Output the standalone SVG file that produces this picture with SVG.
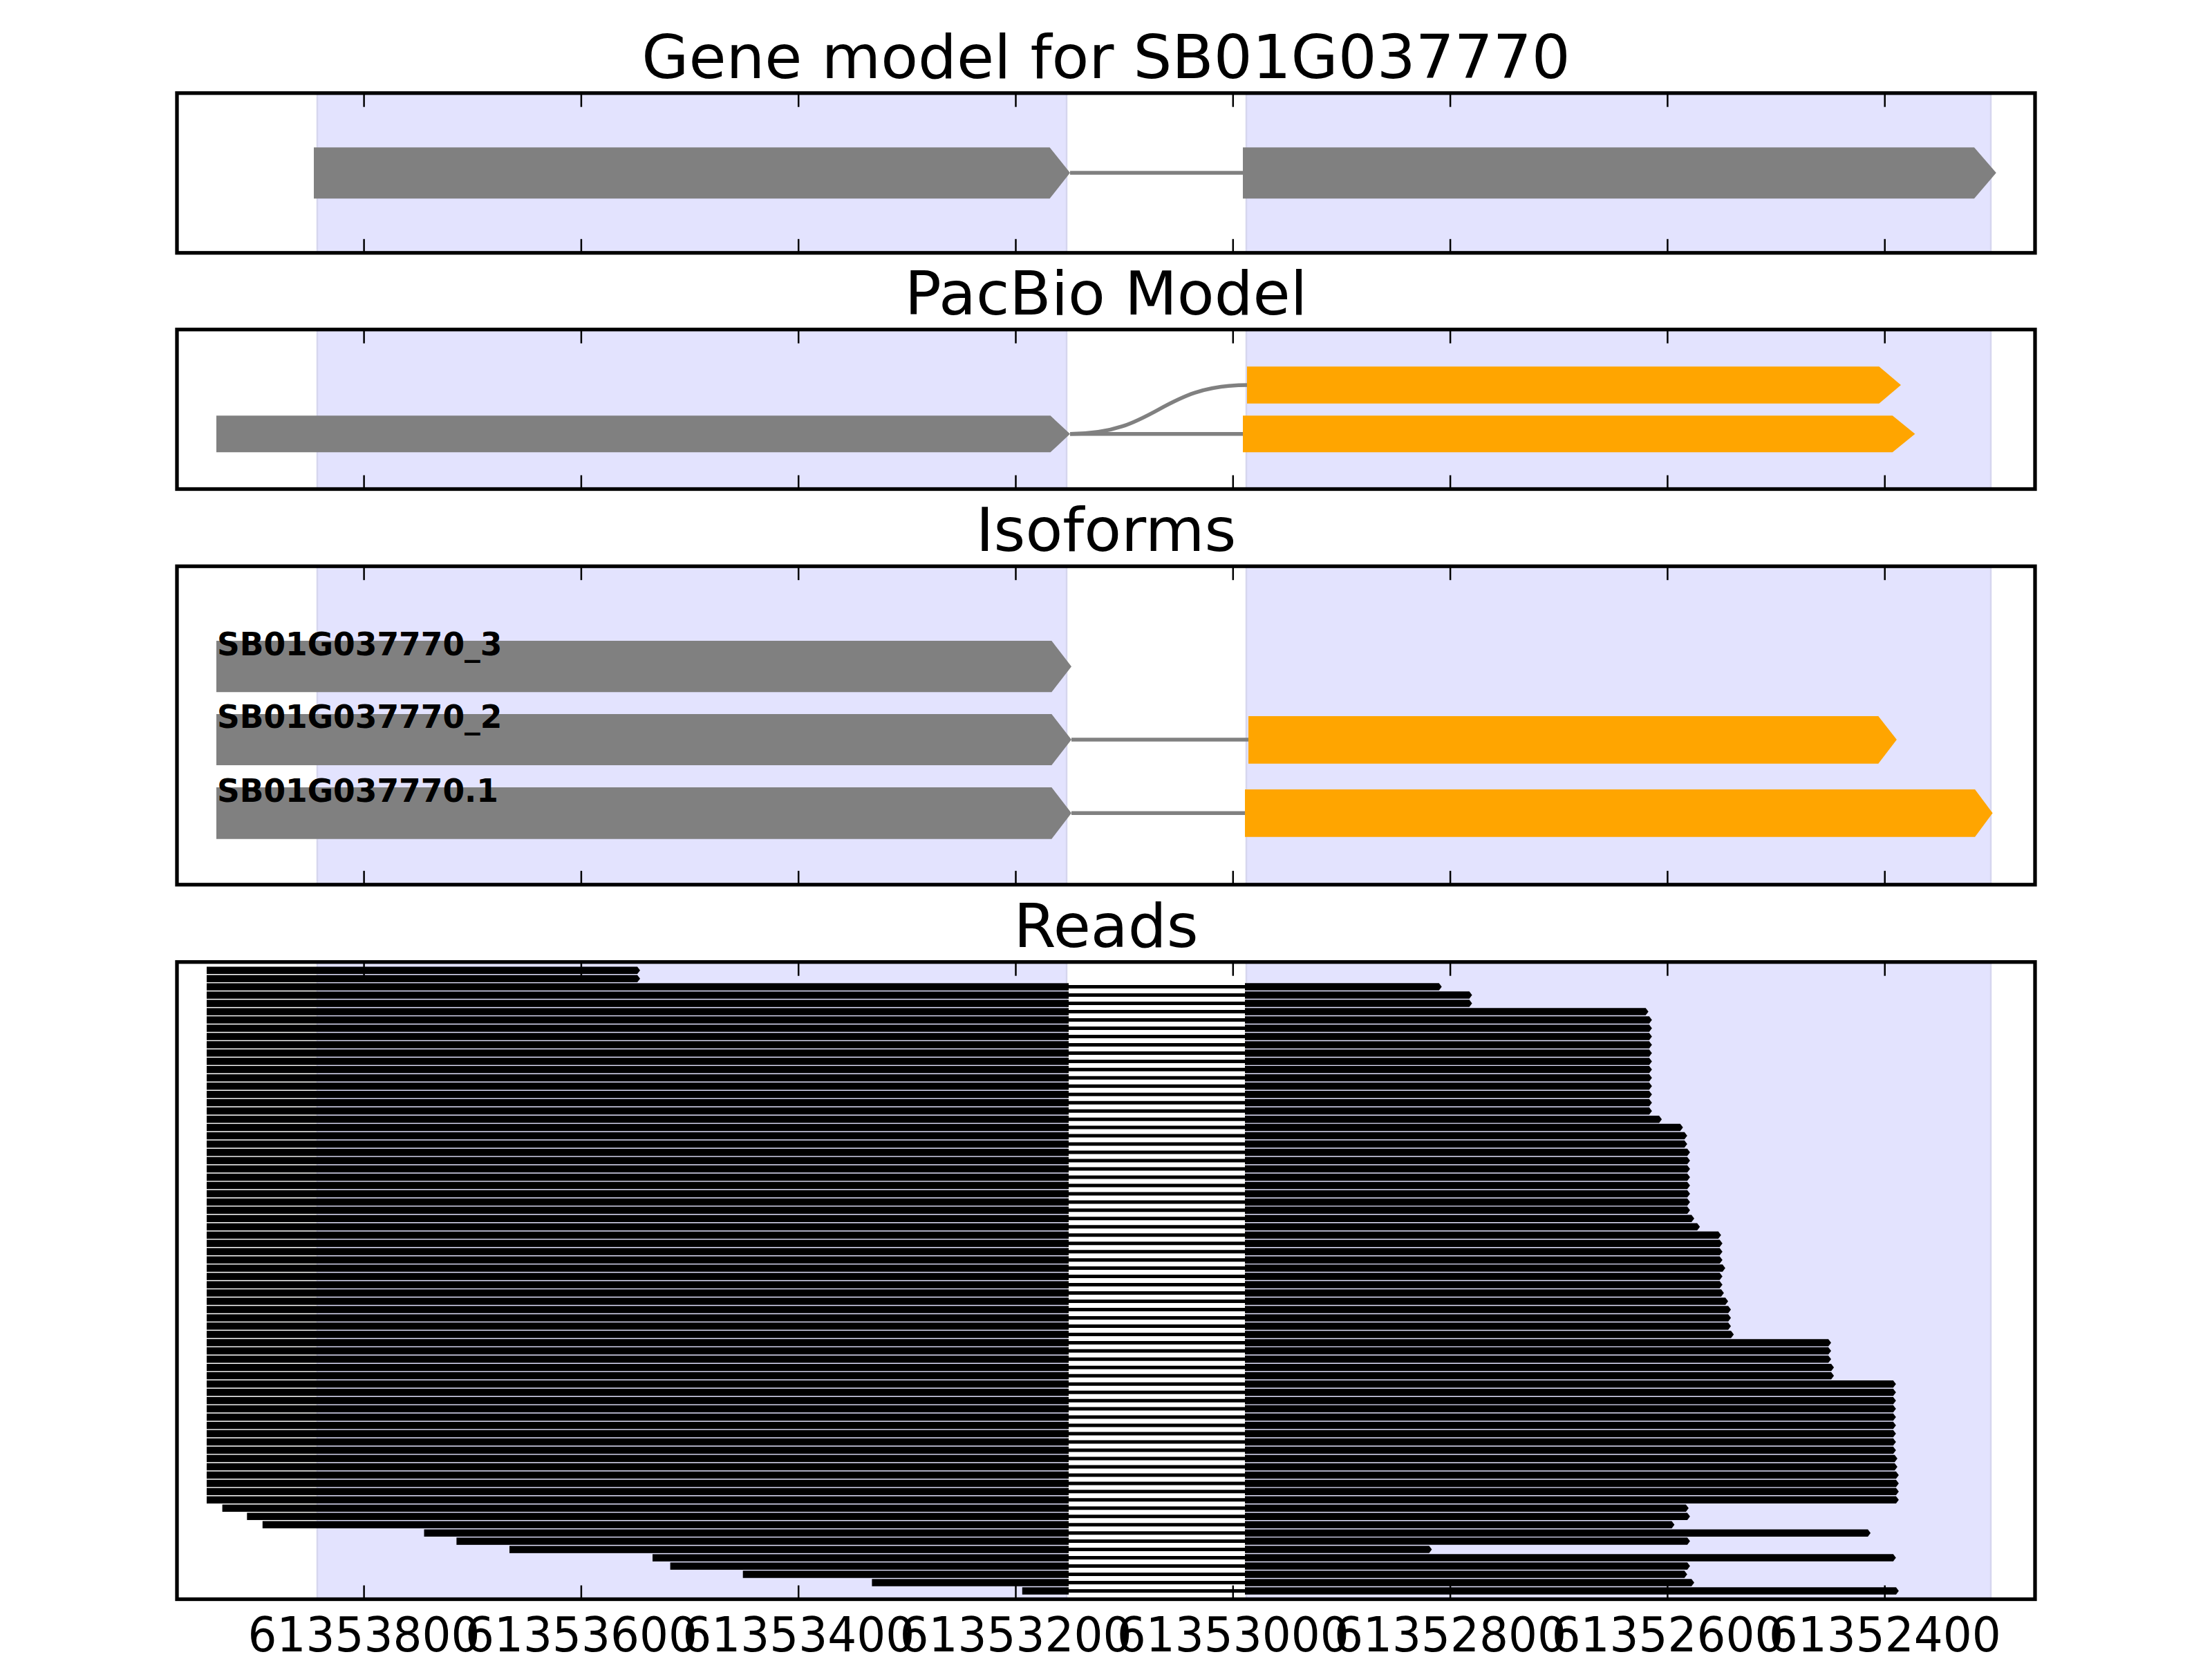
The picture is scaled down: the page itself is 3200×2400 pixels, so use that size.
<svg xmlns="http://www.w3.org/2000/svg" width="3200" height="2400" viewBox="0 0 3200 2400">
<style>
.bg{fill:#fff}
.span{fill:#E3E3FE;stroke:#D6D6EE;stroke-width:2.5}
.spine{fill:none;stroke:#000;stroke-width:5.3}
.tick{stroke:#000;stroke-width:2.5}
.gray{fill:#808080}
.orange{fill:#FFA500}
.intron{fill:none;stroke:#808080;stroke-width:5.5}
.rd{fill:#000}
.rin{stroke:#000;stroke-width:5}
.title{font-family:"DejaVu Sans","Liberation Sans",sans-serif;font-size:88px;text-anchor:middle;fill:#000}
.lbl{font-family:"DejaVu Sans","Liberation Sans",sans-serif;font-weight:bold;font-size:45.5px;fill:#000}
.tl{font-family:"DejaVu Sans","Liberation Sans",sans-serif;font-size:70px;text-anchor:middle;fill:#000}
</style>
<defs>
<g id="ticks">
<line class="tick" x1="526.6" y1="0" x2="526.6" y2="20"/>
<line class="tick" x1="840.9" y1="0" x2="840.9" y2="20"/>
<line class="tick" x1="1155.2" y1="0" x2="1155.2" y2="20"/>
<line class="tick" x1="1469.5" y1="0" x2="1469.5" y2="20"/>
<line class="tick" x1="1783.8" y1="0" x2="1783.8" y2="20"/>
<line class="tick" x1="2098.1" y1="0" x2="2098.1" y2="20"/>
<line class="tick" x1="2412.4" y1="0" x2="2412.4" y2="20"/>
<line class="tick" x1="2726.7" y1="0" x2="2726.7" y2="20"/>
</g>
</defs>
<rect class="bg" x="0" y="0" width="3200" height="2400"/>

<!-- shaded exon regions -->
<g id="spans">
<rect class="span" x="459" y="134.7" width="1084" height="231.1"/>
<rect class="span" x="1803" y="134.7" width="1077" height="231.1"/>
<rect class="span" x="459" y="476.7" width="1084" height="230.8"/>
<rect class="span" x="1803" y="476.7" width="1077" height="230.8"/>
<rect class="span" x="459" y="819.2" width="1084" height="460.6"/>
<rect class="span" x="1803" y="819.2" width="1077" height="460.6"/>
<rect class="span" x="459" y="1391.7" width="1084" height="921.8"/>
<rect class="span" x="1803" y="1391.7" width="1077" height="921.8"/>
</g>

<!-- connectors -->
<g id="connectors">
<line class="intron" x1="1548" y1="250" x2="1798" y2="250"/>
<path class="intron" d="M1548,627.7 C1676,627.7 1676,557 1806,557"/>
<line class="intron" x1="1548" y1="627.7" x2="1798" y2="627.7"/>
<line class="intron" x1="1550" y1="1070" x2="1806" y2="1070"/>
<line class="intron" x1="1550" y1="1176.3" x2="1801" y2="1176.3"/>
<line class="rin" x1="1546" y1="1427.6" x2="1801" y2="1427.6"/>
<line class="rin" x1="1546" y1="1439.6" x2="1801" y2="1439.6"/>
<line class="rin" x1="1546" y1="1451.6" x2="1801" y2="1451.6"/>
<line class="rin" x1="1546" y1="1463.6" x2="1801" y2="1463.6"/>
<line class="rin" x1="1546" y1="1475.5" x2="1801" y2="1475.5"/>
<line class="rin" x1="1546" y1="1487.5" x2="1801" y2="1487.5"/>
<line class="rin" x1="1546" y1="1499.5" x2="1801" y2="1499.5"/>
<line class="rin" x1="1546" y1="1511.4" x2="1801" y2="1511.4"/>
<line class="rin" x1="1546" y1="1523.4" x2="1801" y2="1523.4"/>
<line class="rin" x1="1546" y1="1535.4" x2="1801" y2="1535.4"/>
<line class="rin" x1="1546" y1="1547.3" x2="1801" y2="1547.3"/>
<line class="rin" x1="1546" y1="1559.3" x2="1801" y2="1559.3"/>
<line class="rin" x1="1546" y1="1571.3" x2="1801" y2="1571.3"/>
<line class="rin" x1="1546" y1="1583.3" x2="1801" y2="1583.3"/>
<line class="rin" x1="1546" y1="1595.2" x2="1801" y2="1595.2"/>
<line class="rin" x1="1546" y1="1607.2" x2="1801" y2="1607.2"/>
<line class="rin" x1="1546" y1="1619.2" x2="1801" y2="1619.2"/>
<line class="rin" x1="1546" y1="1631.1" x2="1801" y2="1631.1"/>
<line class="rin" x1="1546" y1="1643.1" x2="1801" y2="1643.1"/>
<line class="rin" x1="1546" y1="1655.1" x2="1801" y2="1655.1"/>
<line class="rin" x1="1546" y1="1667.1" x2="1801" y2="1667.1"/>
<line class="rin" x1="1546" y1="1679.0" x2="1801" y2="1679.0"/>
<line class="rin" x1="1546" y1="1691.0" x2="1801" y2="1691.0"/>
<line class="rin" x1="1546" y1="1703.0" x2="1801" y2="1703.0"/>
<line class="rin" x1="1546" y1="1714.9" x2="1801" y2="1714.9"/>
<line class="rin" x1="1546" y1="1726.9" x2="1801" y2="1726.9"/>
<line class="rin" x1="1546" y1="1738.9" x2="1801" y2="1738.9"/>
<line class="rin" x1="1546" y1="1750.8" x2="1801" y2="1750.8"/>
<line class="rin" x1="1546" y1="1762.8" x2="1801" y2="1762.8"/>
<line class="rin" x1="1546" y1="1774.8" x2="1801" y2="1774.8"/>
<line class="rin" x1="1546" y1="1786.8" x2="1801" y2="1786.8"/>
<line class="rin" x1="1546" y1="1798.7" x2="1801" y2="1798.7"/>
<line class="rin" x1="1546" y1="1810.7" x2="1801" y2="1810.7"/>
<line class="rin" x1="1546" y1="1822.7" x2="1801" y2="1822.7"/>
<line class="rin" x1="1546" y1="1834.6" x2="1801" y2="1834.6"/>
<line class="rin" x1="1546" y1="1846.6" x2="1801" y2="1846.6"/>
<line class="rin" x1="1546" y1="1858.6" x2="1801" y2="1858.6"/>
<line class="rin" x1="1546" y1="1870.5" x2="1801" y2="1870.5"/>
<line class="rin" x1="1546" y1="1882.5" x2="1801" y2="1882.5"/>
<line class="rin" x1="1546" y1="1894.5" x2="1801" y2="1894.5"/>
<line class="rin" x1="1546" y1="1906.5" x2="1801" y2="1906.5"/>
<line class="rin" x1="1546" y1="1918.4" x2="1801" y2="1918.4"/>
<line class="rin" x1="1546" y1="1930.4" x2="1801" y2="1930.4"/>
<line class="rin" x1="1546" y1="1942.4" x2="1801" y2="1942.4"/>
<line class="rin" x1="1546" y1="1954.3" x2="1801" y2="1954.3"/>
<line class="rin" x1="1546" y1="1966.3" x2="1801" y2="1966.3"/>
<line class="rin" x1="1546" y1="1978.3" x2="1801" y2="1978.3"/>
<line class="rin" x1="1546" y1="1990.2" x2="1801" y2="1990.2"/>
<line class="rin" x1="1546" y1="2002.2" x2="1801" y2="2002.2"/>
<line class="rin" x1="1546" y1="2014.2" x2="1801" y2="2014.2"/>
<line class="rin" x1="1546" y1="2026.2" x2="1801" y2="2026.2"/>
<line class="rin" x1="1546" y1="2038.1" x2="1801" y2="2038.1"/>
<line class="rin" x1="1546" y1="2050.1" x2="1801" y2="2050.1"/>
<line class="rin" x1="1546" y1="2062.1" x2="1801" y2="2062.1"/>
<line class="rin" x1="1546" y1="2074.0" x2="1801" y2="2074.0"/>
<line class="rin" x1="1546" y1="2086.0" x2="1801" y2="2086.0"/>
<line class="rin" x1="1546" y1="2098.0" x2="1801" y2="2098.0"/>
<line class="rin" x1="1546" y1="2109.9" x2="1801" y2="2109.9"/>
<line class="rin" x1="1546" y1="2121.9" x2="1801" y2="2121.9"/>
<line class="rin" x1="1546" y1="2133.9" x2="1801" y2="2133.9"/>
<line class="rin" x1="1546" y1="2145.9" x2="1801" y2="2145.9"/>
<line class="rin" x1="1546" y1="2157.8" x2="1801" y2="2157.8"/>
<line class="rin" x1="1546" y1="2169.8" x2="1801" y2="2169.8"/>
<line class="rin" x1="1546" y1="2181.8" x2="1801" y2="2181.8"/>
<line class="rin" x1="1546" y1="2193.7" x2="1801" y2="2193.7"/>
<line class="rin" x1="1546" y1="2205.7" x2="1801" y2="2205.7"/>
<line class="rin" x1="1546" y1="2217.7" x2="1801" y2="2217.7"/>
<line class="rin" x1="1546" y1="2229.6" x2="1801" y2="2229.6"/>
<line class="rin" x1="1546" y1="2241.6" x2="1801" y2="2241.6"/>
<line class="rin" x1="1546" y1="2253.6" x2="1801" y2="2253.6"/>
<line class="rin" x1="1546" y1="2265.6" x2="1801" y2="2265.6"/>
<line class="rin" x1="1546" y1="2277.5" x2="1801" y2="2277.5"/>
<line class="rin" x1="1546" y1="2289.5" x2="1801" y2="2289.5"/>
<line class="rin" x1="1546" y1="2301.5" x2="1801" y2="2301.5"/>
</g>

<!-- panel 1: gene model -->
<g id="gene-model">
<path id="gm-exon1" class="gray" d="M454,213.3 H1518.6 L1548,250 L1518.6,287.3 H454 Z"/>
<path id="gm-exon2" class="gray" d="M1798,213.3 H2856 L2887.8,250 L2856,287.3 H1798 Z"/>
</g>

<!-- panel 2: PacBio model -->
<g id="pacbio-model">
<path id="pb-exon1" class="gray" d="M313,601.3 H1519.6 L1548,627.7 L1519.6,654.3 H313 Z"/>
<path id="pb-exon2a" class="orange" d="M1804,530.3 H2718.4 L2750,557 L2718.4,583.7 H1804 Z"/>
<path id="pb-exon2b" class="orange" d="M1798,601.3 H2737.8 L2770.4,627.7 L2737.8,654.3 H1798 Z"/>
</g>

<!-- panel 3: isoforms -->
<g id="isoform-3">
<path class="gray" d="M313,927 H1521.3 L1550,964.3 L1521.3,1001.3 H313 Z"/>
<text class="lbl" x="314" y="947.7">SB01G037770_3</text>
</g>
<g id="isoform-2">
<path class="gray" d="M313,1033 H1521.3 L1550,1070 L1521.3,1107 H313 Z"/>
<path class="orange" d="M1806,1036 H2717.3 L2743.9,1070 L2717.3,1104.7 H1806 Z"/>
<text class="lbl" x="314" y="1053.3">SB01G037770_2</text>
</g>
<g id="isoform-1">
<path class="gray" d="M313,1139 H1521.3 L1550,1176.3 L1521.3,1213.7 H313 Z"/>
<path class="orange" d="M1801,1142 H2857.1 L2882.6,1176.3 L2857.1,1210.7 H1801 Z"/>
<text class="lbl" x="314" y="1160">SB01G037770.1</text>
</g>

<!-- panel 4: reads -->
<g id="reads">
<g id="read-1" transform="translate(0,1403.7)"><path class="rd" d="M299,-5.25H922L926,0L922,5.25H299Z"/></g>
<g id="read-2" transform="translate(0,1415.7)"><path class="rd" d="M299,-5.25H922L926,0L922,5.25H299Z"/></g>
<g id="read-3" transform="translate(0,1427.6)"><rect class="rd" x="299" y="-5.25" width="1247" height="10.5"/><path class="rd" d="M1801,-5.25H2081.7L2085.7,0L2081.7,5.25H1801Z"/></g>
<g id="read-4" transform="translate(0,1439.6)"><rect class="rd" x="299" y="-5.25" width="1247" height="10.5"/><path class="rd" d="M1801,-5.25H2125.6L2129.6,0L2125.6,5.25H1801Z"/></g>
<g id="read-5" transform="translate(0,1451.6)"><rect class="rd" x="299" y="-5.25" width="1247" height="10.5"/><path class="rd" d="M1801,-5.25H2125.6L2129.6,0L2125.6,5.25H1801Z"/></g>
<g id="read-6" transform="translate(0,1463.6)"><rect class="rd" x="299" y="-5.25" width="1247" height="10.5"/><path class="rd" d="M1801,-5.25H2380.7L2384.7,0L2380.7,5.25H1801Z"/></g>
<g id="read-7" transform="translate(0,1475.5)"><rect class="rd" x="299" y="-5.25" width="1247" height="10.5"/><path class="rd" d="M1801,-5.25H2385.8L2389.8,0L2385.8,5.25H1801Z"/></g>
<g id="read-8" transform="translate(0,1487.5)"><rect class="rd" x="299" y="-5.25" width="1247" height="10.5"/><path class="rd" d="M1801,-5.25H2385.8L2389.8,0L2385.8,5.25H1801Z"/></g>
<g id="read-9" transform="translate(0,1499.5)"><rect class="rd" x="299" y="-5.25" width="1247" height="10.5"/><path class="rd" d="M1801,-5.25H2385.8L2389.8,0L2385.8,5.25H1801Z"/></g>
<g id="read-10" transform="translate(0,1511.4)"><rect class="rd" x="299" y="-5.25" width="1247" height="10.5"/><path class="rd" d="M1801,-5.25H2385.8L2389.8,0L2385.8,5.25H1801Z"/></g>
<g id="read-11" transform="translate(0,1523.4)"><rect class="rd" x="299" y="-5.25" width="1247" height="10.5"/><path class="rd" d="M1801,-5.25H2385.8L2389.8,0L2385.8,5.25H1801Z"/></g>
<g id="read-12" transform="translate(0,1535.4)"><rect class="rd" x="299" y="-5.25" width="1247" height="10.5"/><path class="rd" d="M1801,-5.25H2385.8L2389.8,0L2385.8,5.25H1801Z"/></g>
<g id="read-13" transform="translate(0,1547.3)"><rect class="rd" x="299" y="-5.25" width="1247" height="10.5"/><path class="rd" d="M1801,-5.25H2385.8L2389.8,0L2385.8,5.25H1801Z"/></g>
<g id="read-14" transform="translate(0,1559.3)"><rect class="rd" x="299" y="-5.25" width="1247" height="10.5"/><path class="rd" d="M1801,-5.25H2385.8L2389.8,0L2385.8,5.25H1801Z"/></g>
<g id="read-15" transform="translate(0,1571.3)"><rect class="rd" x="299" y="-5.25" width="1247" height="10.5"/><path class="rd" d="M1801,-5.25H2385.8L2389.8,0L2385.8,5.25H1801Z"/></g>
<g id="read-16" transform="translate(0,1583.3)"><rect class="rd" x="299" y="-5.25" width="1247" height="10.5"/><path class="rd" d="M1801,-5.25H2385.8L2389.8,0L2385.8,5.25H1801Z"/></g>
<g id="read-17" transform="translate(0,1595.2)"><rect class="rd" x="299" y="-5.25" width="1247" height="10.5"/><path class="rd" d="M1801,-5.25H2385.8L2389.8,0L2385.8,5.25H1801Z"/></g>
<g id="read-18" transform="translate(0,1607.2)"><rect class="rd" x="299" y="-5.25" width="1247" height="10.5"/><path class="rd" d="M1801,-5.25H2385.8L2389.8,0L2385.8,5.25H1801Z"/></g>
<g id="read-19" transform="translate(0,1619.2)"><rect class="rd" x="299" y="-5.25" width="1247" height="10.5"/><path class="rd" d="M1801,-5.25H2400.1L2404.1,0L2400.1,5.25H1801Z"/></g>
<g id="read-20" transform="translate(0,1631.1)"><rect class="rd" x="299" y="-5.25" width="1247" height="10.5"/><path class="rd" d="M1801,-5.25H2430.7L2434.7,0L2430.7,5.25H1801Z"/></g>
<g id="read-21" transform="translate(0,1643.1)"><rect class="rd" x="299" y="-5.25" width="1247" height="10.5"/><path class="rd" d="M1801,-5.25H2436.8L2440.8,0L2436.8,5.25H1801Z"/></g>
<g id="read-22" transform="translate(0,1655.1)"><rect class="rd" x="299" y="-5.25" width="1247" height="10.5"/><path class="rd" d="M1801,-5.25H2436.8L2440.8,0L2436.8,5.25H1801Z"/></g>
<g id="read-23" transform="translate(0,1667.1)"><rect class="rd" x="299" y="-5.25" width="1247" height="10.5"/><path class="rd" d="M1801,-5.25H2440.9L2444.9,0L2440.9,5.25H1801Z"/></g>
<g id="read-24" transform="translate(0,1679.0)"><rect class="rd" x="299" y="-5.25" width="1247" height="10.5"/><path class="rd" d="M1801,-5.25H2440.9L2444.9,0L2440.9,5.25H1801Z"/></g>
<g id="read-25" transform="translate(0,1691.0)"><rect class="rd" x="299" y="-5.25" width="1247" height="10.5"/><path class="rd" d="M1801,-5.25H2440.9L2444.9,0L2440.9,5.25H1801Z"/></g>
<g id="read-26" transform="translate(0,1703.0)"><rect class="rd" x="299" y="-5.25" width="1247" height="10.5"/><path class="rd" d="M1801,-5.25H2440.9L2444.9,0L2440.9,5.25H1801Z"/></g>
<g id="read-27" transform="translate(0,1714.9)"><rect class="rd" x="299" y="-5.25" width="1247" height="10.5"/><path class="rd" d="M1801,-5.25H2440.9L2444.9,0L2440.9,5.25H1801Z"/></g>
<g id="read-28" transform="translate(0,1726.9)"><rect class="rd" x="299" y="-5.25" width="1247" height="10.5"/><path class="rd" d="M1801,-5.25H2440.9L2444.9,0L2440.9,5.25H1801Z"/></g>
<g id="read-29" transform="translate(0,1738.9)"><rect class="rd" x="299" y="-5.25" width="1247" height="10.5"/><path class="rd" d="M1801,-5.25H2440.9L2444.9,0L2440.9,5.25H1801Z"/></g>
<g id="read-30" transform="translate(0,1750.8)"><rect class="rd" x="299" y="-5.25" width="1247" height="10.5"/><path class="rd" d="M1801,-5.25H2440.9L2444.9,0L2440.9,5.25H1801Z"/></g>
<g id="read-31" transform="translate(0,1762.8)"><rect class="rd" x="299" y="-5.25" width="1247" height="10.5"/><path class="rd" d="M1801,-5.25H2447L2451,0L2447,5.25H1801Z"/></g>
<g id="read-32" transform="translate(0,1774.8)"><rect class="rd" x="299" y="-5.25" width="1247" height="10.5"/><path class="rd" d="M1801,-5.25H2455.2L2459.2,0L2455.2,5.25H1801Z"/></g>
<g id="read-33" transform="translate(0,1786.8)"><rect class="rd" x="299" y="-5.25" width="1247" height="10.5"/><path class="rd" d="M1801,-5.25H2485.8L2489.8,0L2485.8,5.25H1801Z"/></g>
<g id="read-34" transform="translate(0,1798.7)"><rect class="rd" x="299" y="-5.25" width="1247" height="10.5"/><path class="rd" d="M1801,-5.25H2487.8L2491.8,0L2487.8,5.25H1801Z"/></g>
<g id="read-35" transform="translate(0,1810.7)"><rect class="rd" x="299" y="-5.25" width="1247" height="10.5"/><path class="rd" d="M1801,-5.25H2487.8L2491.8,0L2487.8,5.25H1801Z"/></g>
<g id="read-36" transform="translate(0,1822.7)"><rect class="rd" x="299" y="-5.25" width="1247" height="10.5"/><path class="rd" d="M1801,-5.25H2487.8L2491.8,0L2487.8,5.25H1801Z"/></g>
<g id="read-37" transform="translate(0,1834.6)"><rect class="rd" x="299" y="-5.25" width="1247" height="10.5"/><path class="rd" d="M1801,-5.25H2491.9L2495.9,0L2491.9,5.25H1801Z"/></g>
<g id="read-38" transform="translate(0,1846.6)"><rect class="rd" x="299" y="-5.25" width="1247" height="10.5"/><path class="rd" d="M1801,-5.25H2487.8L2491.8,0L2487.8,5.25H1801Z"/></g>
<g id="read-39" transform="translate(0,1858.6)"><rect class="rd" x="299" y="-5.25" width="1247" height="10.5"/><path class="rd" d="M1801,-5.25H2487.8L2491.8,0L2487.8,5.25H1801Z"/></g>
<g id="read-40" transform="translate(0,1870.5)"><rect class="rd" x="299" y="-5.25" width="1247" height="10.5"/><path class="rd" d="M1801,-5.25H2489.9L2493.9,0L2489.9,5.25H1801Z"/></g>
<g id="read-41" transform="translate(0,1882.5)"><rect class="rd" x="299" y="-5.25" width="1247" height="10.5"/><path class="rd" d="M1801,-5.25H2496L2500,0L2496,5.25H1801Z"/></g>
<g id="read-42" transform="translate(0,1894.5)"><rect class="rd" x="299" y="-5.25" width="1247" height="10.5"/><path class="rd" d="M1801,-5.25H2500.1L2504.1,0L2500.1,5.25H1801Z"/></g>
<g id="read-43" transform="translate(0,1906.5)"><rect class="rd" x="299" y="-5.25" width="1247" height="10.5"/><path class="rd" d="M1801,-5.25H2500.1L2504.1,0L2500.1,5.25H1801Z"/></g>
<g id="read-44" transform="translate(0,1918.4)"><rect class="rd" x="299" y="-5.25" width="1247" height="10.5"/><path class="rd" d="M1801,-5.25H2500.1L2504.1,0L2500.1,5.25H1801Z"/></g>
<g id="read-45" transform="translate(0,1930.4)"><rect class="rd" x="299" y="-5.25" width="1247" height="10.5"/><path class="rd" d="M1801,-5.25H2504.2L2508.2,0L2504.2,5.25H1801Z"/></g>
<g id="read-46" transform="translate(0,1942.4)"><rect class="rd" x="299" y="-5.25" width="1247" height="10.5"/><path class="rd" d="M1801,-5.25H2645L2649,0L2645,5.25H1801Z"/></g>
<g id="read-47" transform="translate(0,1954.3)"><rect class="rd" x="299" y="-5.25" width="1247" height="10.5"/><path class="rd" d="M1801,-5.25H2645L2649,0L2645,5.25H1801Z"/></g>
<g id="read-48" transform="translate(0,1966.3)"><rect class="rd" x="299" y="-5.25" width="1247" height="10.5"/><path class="rd" d="M1801,-5.25H2645L2649,0L2645,5.25H1801Z"/></g>
<g id="read-49" transform="translate(0,1978.3)"><rect class="rd" x="299" y="-5.25" width="1247" height="10.5"/><path class="rd" d="M1801,-5.25H2649.1L2653.1,0L2649.1,5.25H1801Z"/></g>
<g id="read-50" transform="translate(0,1990.2)"><rect class="rd" x="299" y="-5.25" width="1247" height="10.5"/><path class="rd" d="M1801,-5.25H2649.1L2653.1,0L2649.1,5.25H1801Z"/></g>
<g id="read-51" transform="translate(0,2002.2)"><rect class="rd" x="299" y="-5.25" width="1247" height="10.5"/><path class="rd" d="M1801,-5.25H2738.8L2742.8,0L2738.8,5.25H1801Z"/></g>
<g id="read-52" transform="translate(0,2014.2)"><rect class="rd" x="299" y="-5.25" width="1247" height="10.5"/><path class="rd" d="M1801,-5.25H2738.8L2742.8,0L2738.8,5.25H1801Z"/></g>
<g id="read-53" transform="translate(0,2026.2)"><rect class="rd" x="299" y="-5.25" width="1247" height="10.5"/><path class="rd" d="M1801,-5.25H2738.8L2742.8,0L2738.8,5.25H1801Z"/></g>
<g id="read-54" transform="translate(0,2038.1)"><rect class="rd" x="299" y="-5.25" width="1247" height="10.5"/><path class="rd" d="M1801,-5.25H2738.8L2742.8,0L2738.8,5.25H1801Z"/></g>
<g id="read-55" transform="translate(0,2050.1)"><rect class="rd" x="299" y="-5.25" width="1247" height="10.5"/><path class="rd" d="M1801,-5.25H2738.8L2742.8,0L2738.8,5.25H1801Z"/></g>
<g id="read-56" transform="translate(0,2062.1)"><rect class="rd" x="299" y="-5.25" width="1247" height="10.5"/><path class="rd" d="M1801,-5.25H2738.8L2742.8,0L2738.8,5.25H1801Z"/></g>
<g id="read-57" transform="translate(0,2074.0)"><rect class="rd" x="299" y="-5.25" width="1247" height="10.5"/><path class="rd" d="M1801,-5.25H2738.8L2742.8,0L2738.8,5.25H1801Z"/></g>
<g id="read-58" transform="translate(0,2086.0)"><rect class="rd" x="299" y="-5.25" width="1247" height="10.5"/><path class="rd" d="M1801,-5.25H2738.8L2742.8,0L2738.8,5.25H1801Z"/></g>
<g id="read-59" transform="translate(0,2098.0)"><rect class="rd" x="299" y="-5.25" width="1247" height="10.5"/><path class="rd" d="M1801,-5.25H2738.8L2742.8,0L2738.8,5.25H1801Z"/></g>
<g id="read-60" transform="translate(0,2109.9)"><rect class="rd" x="299" y="-5.25" width="1247" height="10.5"/><path class="rd" d="M1801,-5.25H2740.9L2744.9,0L2740.9,5.25H1801Z"/></g>
<g id="read-61" transform="translate(0,2121.9)"><rect class="rd" x="299" y="-5.25" width="1247" height="10.5"/><path class="rd" d="M1801,-5.25H2740.9L2744.9,0L2740.9,5.25H1801Z"/></g>
<g id="read-62" transform="translate(0,2133.9)"><rect class="rd" x="299" y="-5.25" width="1247" height="10.5"/><path class="rd" d="M1801,-5.25H2742.9L2746.9,0L2742.9,5.25H1801Z"/></g>
<g id="read-63" transform="translate(0,2145.9)"><rect class="rd" x="299" y="-5.25" width="1247" height="10.5"/><path class="rd" d="M1801,-5.25H2742.9L2746.9,0L2742.9,5.25H1801Z"/></g>
<g id="read-64" transform="translate(0,2157.8)"><rect class="rd" x="299" y="-5.25" width="1247" height="10.5"/><path class="rd" d="M1801,-5.25H2742.9L2746.9,0L2742.9,5.25H1801Z"/></g>
<g id="read-65" transform="translate(0,2169.8)"><rect class="rd" x="299" y="-5.25" width="1247" height="10.5"/><path class="rd" d="M1801,-5.25H2742.9L2746.9,0L2742.9,5.25H1801Z"/></g>
<g id="read-66" transform="translate(0,2181.8)"><rect class="rd" x="321.6" y="-5.25" width="1224.4" height="10.5"/><path class="rd" d="M1801,-5.25H2438.9L2442.9,0L2438.9,5.25H1801Z"/></g>
<g id="read-67" transform="translate(0,2193.7)"><rect class="rd" x="357.3" y="-5.25" width="1188.7" height="10.5"/><path class="rd" d="M1801,-5.25H2440.9L2444.9,0L2440.9,5.25H1801Z"/></g>
<g id="read-68" transform="translate(0,2205.7)"><rect class="rd" x="379.8" y="-5.25" width="1166.2" height="10.5"/><path class="rd" d="M1801,-5.25H2418.4L2422.4,0L2418.4,5.25H1801Z"/></g>
<g id="read-69" transform="translate(0,2217.7)"><rect class="rd" x="613.5" y="-5.25" width="932.5" height="10.5"/><path class="rd" d="M1801,-5.25H2702.1L2706.1,0L2702.1,5.25H1801Z"/></g>
<g id="read-70" transform="translate(0,2229.6)"><rect class="rd" x="660.4" y="-5.25" width="885.6" height="10.5"/><path class="rd" d="M1801,-5.25H2440.9L2444.9,0L2440.9,5.25H1801Z"/></g>
<g id="read-71" transform="translate(0,2241.6)"><rect class="rd" x="737" y="-5.25" width="809" height="10.5"/><path class="rd" d="M1801,-5.25H2067.4L2071.4,0L2067.4,5.25H1801Z"/></g>
<g id="read-72" transform="translate(0,2253.6)"><rect class="rd" x="944" y="-5.25" width="602" height="10.5"/><path class="rd" d="M1801,-5.25H2738.8L2742.8,0L2738.8,5.25H1801Z"/></g>
<g id="read-73" transform="translate(0,2265.6)"><rect class="rd" x="969.6" y="-5.25" width="576.4" height="10.5"/><path class="rd" d="M1801,-5.25H2440.9L2444.9,0L2440.9,5.25H1801Z"/></g>
<g id="read-74" transform="translate(0,2277.5)"><rect class="rd" x="1074.7" y="-5.25" width="471.3" height="10.5"/><path class="rd" d="M1801,-5.25H2436.8L2440.8,0L2436.8,5.25H1801Z"/></g>
<g id="read-75" transform="translate(0,2289.5)"><rect class="rd" x="1261.4" y="-5.25" width="284.6" height="10.5"/><path class="rd" d="M1801,-5.25H2447L2451,0L2447,5.25H1801Z"/></g>
<g id="read-76" transform="translate(0,2301.5)"><rect class="rd" x="1478.8" y="-5.25" width="67.2" height="10.5"/><path class="rd" d="M1801,-5.25H2742.9L2746.9,0L2742.9,5.25H1801Z"/></g>
</g>

<!-- ticks -->
<g id="axis-ticks">
<use href="#ticks" transform="translate(0,134.7)"/>
<use href="#ticks" transform="translate(0,365.8) scale(1,-1)"/>
<use href="#ticks" transform="translate(0,476.7)"/>
<use href="#ticks" transform="translate(0,707.5) scale(1,-1)"/>
<use href="#ticks" transform="translate(0,819.2)"/>
<use href="#ticks" transform="translate(0,1279.8) scale(1,-1)"/>
<use href="#ticks" transform="translate(0,1391.7)"/>
<use href="#ticks" transform="translate(0,2313.5) scale(1,-1)"/>
</g>

<!-- axes frames -->
<g id="frames">
<rect class="spine" x="256" y="134.7" width="2688" height="231.1"/>
<rect class="spine" x="256" y="476.7" width="2688" height="230.8"/>
<rect class="spine" x="256" y="819.2" width="2688" height="460.6"/>
<rect class="spine" x="256" y="1391.7" width="2688" height="921.8"/>
</g>

<!-- titles -->
<g id="titles">
<text class="title" x="1600" y="112.7">Gene model for SB01G037770</text>
<text class="title" x="1600" y="454.7">PacBio Model</text>
<text class="title" x="1600" y="797.2">Isoforms</text>
<text class="title" x="1600" y="1369.7">Reads</text>
</g>

<!-- x tick labels -->
<g id="tick-labels">
<text class="tl" x="526.6" y="2389" textLength="336" lengthAdjust="spacingAndGlyphs">61353800</text>
<text class="tl" x="840.9" y="2389" textLength="336" lengthAdjust="spacingAndGlyphs">61353600</text>
<text class="tl" x="1155.2" y="2389" textLength="336" lengthAdjust="spacingAndGlyphs">61353400</text>
<text class="tl" x="1469.5" y="2389" textLength="336" lengthAdjust="spacingAndGlyphs">61353200</text>
<text class="tl" x="1783.8" y="2389" textLength="336" lengthAdjust="spacingAndGlyphs">61353000</text>
<text class="tl" x="2098.1" y="2389" textLength="336" lengthAdjust="spacingAndGlyphs">61352800</text>
<text class="tl" x="2412.4" y="2389" textLength="336" lengthAdjust="spacingAndGlyphs">61352600</text>
<text class="tl" x="2726.7" y="2389" textLength="336" lengthAdjust="spacingAndGlyphs">61352400</text>
</g>
</svg>
